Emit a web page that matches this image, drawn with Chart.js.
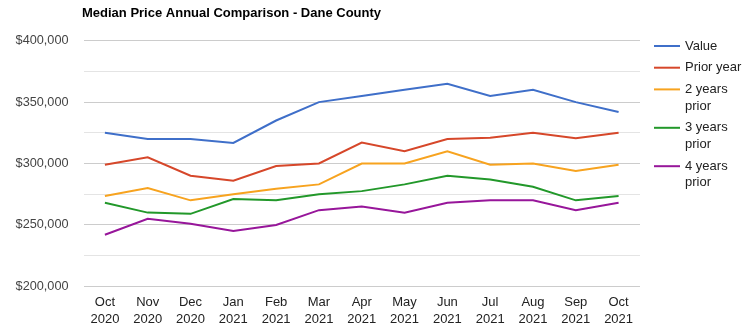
<!DOCTYPE html>
<html>
<head>
<meta charset="utf-8">
<script src="https://cdn.jsdelivr.net/npm/chart.js@4.4.1/dist/chart.umd.min.js"></script>
<style>
  html, body { margin: 0; padding: 0; background: #fff; }
  #wrap { width: 751px; height: 333px; }
</style>
</head>
<body>
<div id="wrap"><canvas id="c" width="751" height="333"></canvas></div>
<script>
const months = ['Oct', 'Nov', 'Dec', 'Jan', 'Feb', 'Mar', 'Apr', 'May', 'Jun', 'Jul', 'Aug', 'Sep', 'Oct'];
const years = ['2020', '2020', '2020', '2021', '2021', '2021', '2021', '2021', '2021', '2021', '2021', '2021', '2021'];

const value      = [325000, 320000, 320000, 316700, 335000, 350000, 355000, 360000, 365000, 355000, 360000, 350000, 342000];
const priorYear  = [299000, 305000, 290000, 286000, 298000, 300000, 317000, 310000, 320000, 321000, 325000, 320500, 325000];
const twoYears   = [273500, 280000, 270000, 275000, 279500, 283000, 300000, 300000, 310000, 299000, 300000, 294000, 299000];
const threeYears = [268000, 260000, 259000, 271000, 270000, 275000, 277500, 283000, 290000, 287000, 281000, 270000, 273500];
const fourYears  = [242000, 255000, 251000, 245000, 250000, 262000, 265000, 260000, 268000, 270000, 270000, 262000, 268000];

const seriesNames = ['Value', 'Prior year', '2 years prior', '3 years prior', '4 years prior'];
const seriesColors = ['#3f6fc9', '#d6472a', '#f7a31f', '#22982a', '#97169a'];
const yTicks = [200000, 250000, 300000, 350000, 400000];
const titleText = 'Median Price Annual Comparison - Dane County';

const FONT = '"Liberation Sans", Arial, sans-serif';

const seriesData = [value, priorYear, twoYears, threeYears, fourYears];
const datasets = seriesData.map((d, i) => ({
  label: seriesNames[i],
  data: d,
  borderColor: seriesColors[i],
  backgroundColor: seriesColors[i],
  borderWidth: 2,
  pointRadius: 0,
  pointHoverRadius: 0,
  tension: 0,
  fill: false
}));

// Title and a right-hand legend with wrapped labels
const decorations = {
  id: 'decorations',
  afterDraw(chart) {
    const ctx = chart.ctx;
    ctx.save();
    ctx.fillStyle = '#000';
    ctx.font = 'bold 13px ' + FONT;
    ctx.textAlign = 'left';
    ctx.textBaseline = 'middle';
    ctx.fillText(titleText, 82, 13.5);

    const lineX0 = 654, lineX1 = 680, textX = 685;
    const maxW = chart.width - textX - 2;
    ctx.font = '13px ' + FONT;
    let y = 46;
    chart.data.datasets.forEach(ds => {
      const words = ds.label.split(' ');
      const lines = [];
      let cur = '';
      words.forEach(w => {
        const t = cur ? cur + ' ' + w : w;
        if (cur && ctx.measureText(t).width > maxW) { lines.push(cur); cur = w; }
        else cur = t;
      });
      if (cur) lines.push(cur);
      ctx.strokeStyle = ds.borderColor;
      ctx.lineWidth = 2;
      ctx.beginPath();
      ctx.moveTo(lineX0, y);
      ctx.lineTo(lineX1, y);
      ctx.stroke();
      ctx.fillStyle = '#222';
      lines.forEach((ln, k) => ctx.fillText(ln, textX, y + k * 16.7));
      y += lines.length * 16.7 + 5;
    });
    ctx.restore();
  }
};

new Chart(document.getElementById('c'), {
  type: 'line',
  data: {
    labels: months.map((m, i) => [m, years[i]]),
    datasets
  },
  options: {
    responsive: false,
    animation: false,
    events: [],
    layout: { padding: { top: 40.7, right: 111, left: 0, bottom: 0 } },
    plugins: {
      legend: { display: false },
      title: { display: false },
      tooltip: { enabled: false }
    },
    scales: {
      x: {
        offset: true,
        grid: { display: false, drawTicks: false },
        border: { display: false },
        ticks: {
          color: '#222',
          font: { family: FONT, size: 13, lineHeight: 1.3 },
          padding: 7.5,
          maxRotation: 0,
          autoSkip: false
        },
        afterFit(scale) { scale.height = 46.7; }
      },
      y: {
        min: 200000,
        max: 400000,
        grid: {
          drawTicks: false,
          color: ctx => (ctx.tick && yTicks.includes(ctx.tick.value)) ? '#cccccc' : '#e4e4e4',
          lineWidth: 1
        },
        border: { display: false },
        ticks: {
          stepSize: 25000,
          color: '#444',
          font: { family: FONT, size: 12.7 },
          padding: 15,
          callback: v => yTicks.includes(v) ? '$' + v.toLocaleString('en-US') : ''
        },
        afterFit(scale) { scale.width = 83.5; }
      }
    }
  },
  plugins: [decorations]
});
</script>
</body>
</html>
